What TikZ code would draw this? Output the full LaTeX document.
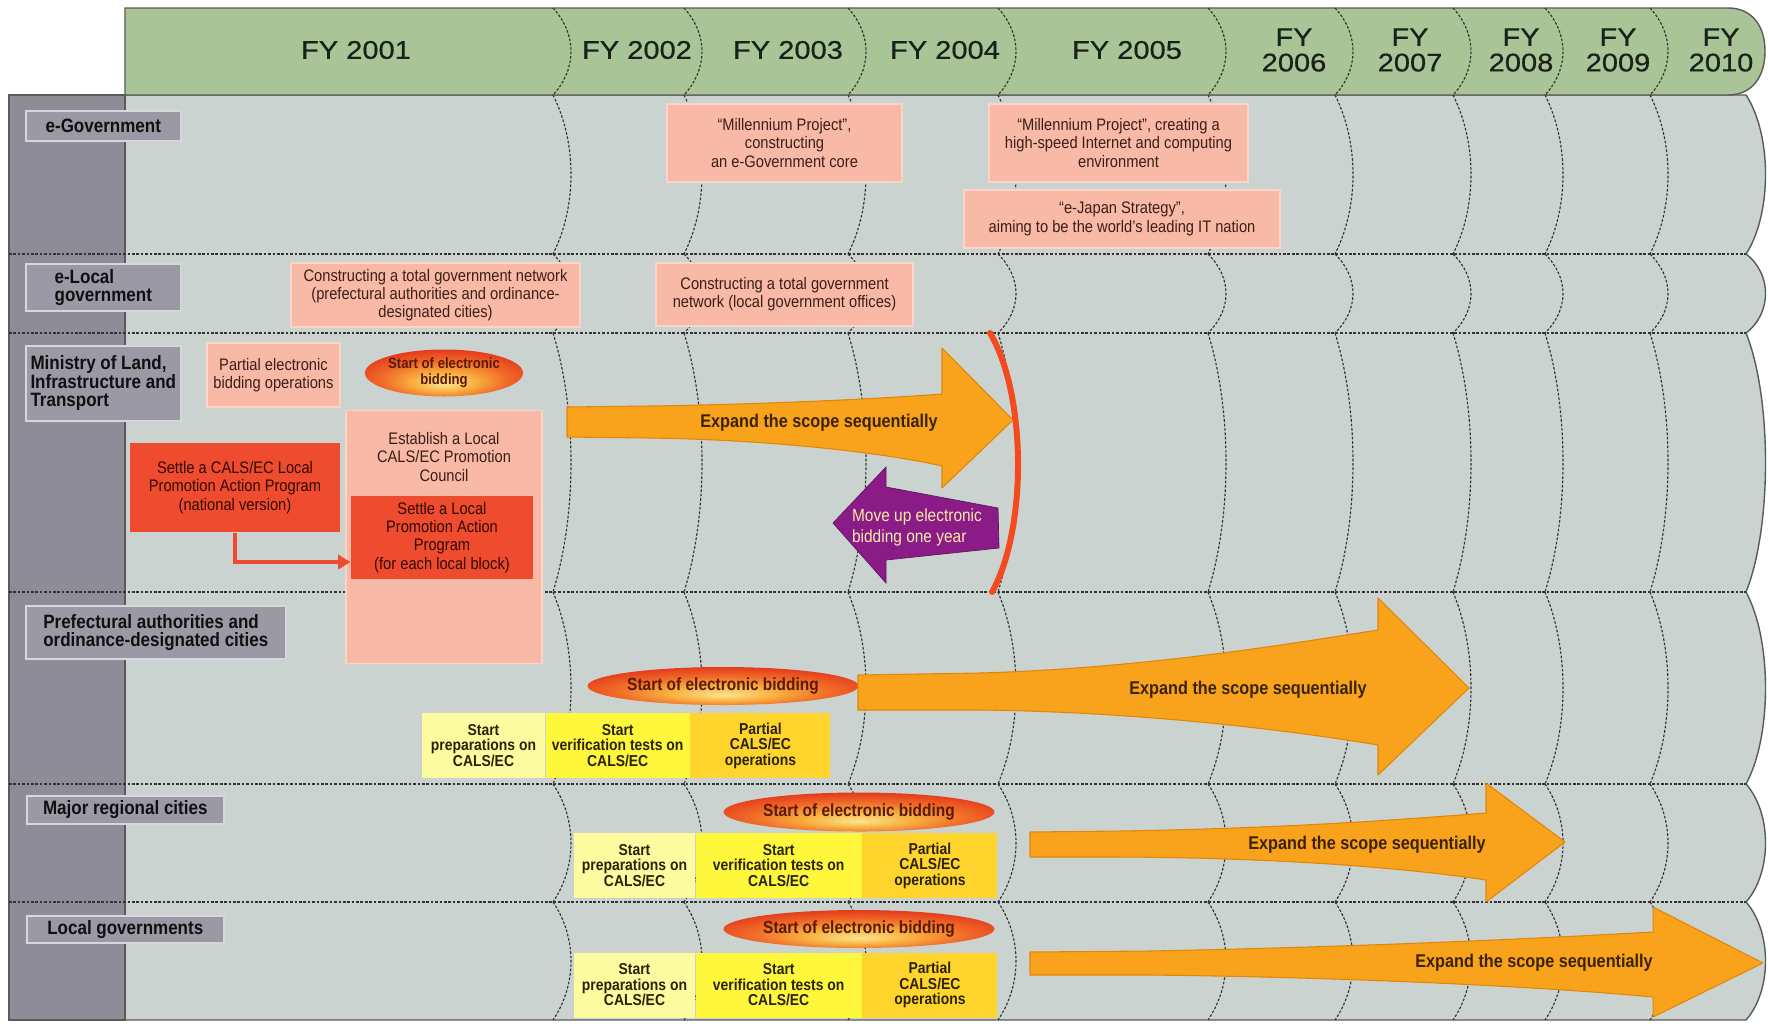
\documentclass[tikz,border=0pt]{standalone}
\usepackage{fontspec}
\setmainfont{Liberation Sans}
\newfontfamily\hdrfont[FakeStretch=1.14,FakeBold=0.6]{Liberation Sans}
\newfontfamily\boxfont[FakeStretch=0.88]{Liberation Sans}
\newfontfamily\labfont[FakeStretch=0.88]{Liberation Sans Bold}
\usepackage{tikz}
\usetikzlibrary{arrows.meta}
\usetikzlibrary{positioning}
\usetikzlibrary{shapes.geometric}

\definecolor{hdrgreen}{HTML}{A9C597}
\definecolor{hdrtext}{HTML}{18221A}
\definecolor{bodyfill}{HTML}{CBD3D1}
\definecolor{colfill}{HTML}{8E8C97}
\definecolor{labfill}{HTML}{9B99A3}
\definecolor{labedge}{HTML}{D6D6DC}
\definecolor{labtext}{HTML}{101010}
\definecolor{edgegray}{HTML}{5A5A5A}
\definecolor{sepgray}{HTML}{333333}
\definecolor{pinkfill}{HTML}{F8B9A7}
\definecolor{pinkedge}{HTML}{FBD3C7}
\definecolor{boxtext}{HTML}{3B1E16}
\definecolor{redfill}{HTML}{EF4B2F}
\definecolor{redtext}{HTML}{2E0A03}
\definecolor{orangefill}{HTML}{F9A21B}
\definecolor{orangeedge}{HTML}{E0860A}
\definecolor{scopetext}{HTML}{3A2300}
\definecolor{yelpale}{HTML}{FDFBA0}
\definecolor{yelmid}{HTML}{FEF73C}
\definecolor{yelgold}{HTML}{FFD42C}
\definecolor{yeltext}{HTML}{2A2205}
\definecolor{purplefill}{HTML}{8B1C87}
\definecolor{movetext}{HTML}{F7EBA8}
\definecolor{bracketred}{HTML}{F34A1E}
\definecolor{bidtext}{HTML}{5A1A02}
\definecolor{ellcore}{HTML}{FBE48E}
\definecolor{ellmid}{HTML}{F8B040}
\definecolor{ellwarm}{HTML}{F06A28}
\definecolor{ellrim}{HTML}{E43A1C}

\pgfdeclareradialshading{bidshade}{\pgfpoint{0bp}{-12bp}}{color(0bp)=(ellcore); color(10bp)=(ellmid); color(20bp)=(ellwarm); color(30bp)=(ellrim); color(50bp)=(ellrim)}

\begin{document}
\begin{tikzpicture}[x=0.2mm,y=-0.2mm,
  hdr/.style={font=\hdrfont\fontsize{14.5}{14.5}\selectfont,text=hdrtext,align=center,inner sep=0pt},
  lab/.style={anchor=north west,draw=labedge,line width=0.9pt,fill=labfill,text=labtext,font=\labfont\fontsize{11}{10.5}\selectfont,align=left,inner sep=0pt},
  pinkbox/.style={draw=pinkedge,line width=0.6pt,fill=pinkfill,text=boxtext,font=\boxfont\fontsize{9.5}{10.4}\selectfont,align=center,inner sep=0pt},
  redbox/.style={pinkbox,draw=none,fill=redfill,text=redtext},
  bidell/.style={ellipse,shading=bidshade,text=bidtext,font=\labfont\fontsize{10}{10.5}\selectfont,align=center,inner sep=0pt},
  yelbox/.style={text=yeltext,font=\labfont\fontsize{9}{8.8}\selectfont,align=center,inner sep=0pt,minimum height=13mm},
  scopetxt/.style={text=scopetext,font=\labfont\fontsize{10.5}{12}\selectfont,inner sep=0pt},
  scopearrow/.style={fill=orangefill,draw=orangeedge,line width=0.6pt,line join=round},
  rowsep/.style={draw=sepgray,line width=0.65pt,dash pattern=on 1.5pt off 1pt},
  yearsep/.style={rowsep},
  redlink/.style={draw=redfill,line width=2.2pt,-{Triangle[length=7pt,width=8pt]}},
  bracketline/.style={draw=bracketred,line width=1.2mm,line cap=round}]

  \useasboundingbox (0,0) rectangle (1768,1023);
  \fill [white] (0,0) rectangle (1768,1023);

  \filldraw [fill=bodyfill,draw=edgegray,line width=0.8pt] (125,95)
    \foreach \ya/\yb in {95/254,254/333,333/592,592/784,784/902,902/1020} {
      -- (1746,\ya) .. controls (1772,{\ya+0.25*(\yb-\ya)}) and (1772,{\yb-0.25*(\yb-\ya)}) .. (1746,\yb)
    } -- (125,1020) -- cycle;
  \filldraw [fill=colfill,draw=edgegray,line width=0.8pt] (9,95) rectangle (125,1020);
  \filldraw [fill=hdrgreen,draw=edgegray,line width=0.8pt] (125,8) -- (1728,8)
    .. controls (1752,8) and (1765,26) .. (1765,51)
    .. controls (1765,77) and (1752,95) .. (1728,95) -- (125,95) -- cycle;

  \foreach \ys in {254,333,592,784,902}
    \draw [rowsep] (9,\ys) -- (1746,\ys);

  \foreach \xb in {553,684,848,998,1208,1335,1453,1545,1650}
    \foreach \ya/\yb in {8/95,95/254,254/333,333/592,592/784,784/902,902/1020}
      \draw [yearsep] (\xb,\ya) .. controls ({\xb+24},{\ya+0.3*(\yb-\ya)}) and ({\xb+24},{\yb-0.3*(\yb-\ya)}) .. (\xb,\yb);

  \node [hdr] (fy01) at (356,50) {FY 2001};
  \node [hdr] (fy02) at (637,50) {FY 2002};
  \node [hdr] (fy03) at (788,50) {FY 2003};
  \node [hdr] (fy04) at (945,50) {FY 2004};
  \node [hdr] (fy05) at (1127,50) {FY 2005};
  \node [hdr] (fy06) at (1294,50) {FY\\2006};
  \node [hdr] (fy07) at (1410,50) {FY\\2007};
  \node [hdr] (fy08) at (1521,50) {FY\\2008};
  \node [hdr] (fy09) at (1618,50) {FY\\2009};
  \node [hdr] (fy10) at (1721,50) {FY\\2010};

  \node [lab,minimum width=31mm,minimum height=6mm] (egov) at (25,110) {e-Government};
  \node [lab,minimum width=31mm,minimum height=9.4mm] (elocal) at (25,263) {e-Local\\government};
  \node [lab,minimum width=31mm,minimum height=15mm] (mlit) at (25,345) {Ministry of Land,\\Infrastructure and\\Transport};
  \node [lab,minimum width=52mm,minimum height=10.6mm] (pref) at (25,605) {Prefectural authorities and\\ordinance-designated cities};
  \node [lab,minimum width=39.4mm,minimum height=5.6mm] (major) at (26,795) {Major regional cities};
  \node [lab,minimum width=39.4mm,minimum height=5.4mm] (localgov) at (26,915) {Local governments};

  \node [pinkbox,minimum width=47mm,minimum height=15.6mm] (mill1) at (784.5,143) {“Millennium Project”,\\constructing\\an e-Government core};
  \node [pinkbox,minimum width=51.8mm,minimum height=15.6mm] (mill2) at (1118.5,143) {“Millennium Project”, creating a\\high-speed Internet and computing\\environment};
  \node [pinkbox,minimum width=63.2mm,minimum height=11.6mm] (ejapan) at (1122,219) {“e-Japan Strategy”,\\aiming to be the world’s leading IT nation};
  \node [pinkbox,minimum width=57.8mm,minimum height=12.8mm] (netpref) at (435.5,295) {Constructing a total government network\\(prefectural authorities and ordinance-\\designated cities)};
  \node [pinkbox,minimum width=51.4mm,minimum height=12.6mm] (netlocal) at (784.5,294.5) {Constructing a total government\\network (local government offices)};
  \node [pinkbox,minimum width=26.6mm,minimum height=12.8mm] (partbid) at (273.5,375) {Partial electronic\\bidding operations};
  \node [pinkbox,minimum width=39.2mm,minimum height=50.6mm,anchor=north] (council) at (444,410) {};
  \node [pinkbox,draw=none,fill=none] (counciltxt) at (444,457) {Establish a Local\\CALS/EC Promotion\\Council};
  \node [redbox,minimum width=36.4mm,minimum height=16.6mm] (localprog) at (442,537.5) {Settle a Local\\Promotion Action\\Program\\(for each local block)};
  \node [redbox,minimum width=42mm,minimum height=17.8mm] (natprog) at (235,487.5) {Settle a CALS/EC Local\\Promotion Action Program\\(national version)};

  \path [redlink] (natprog.south) |- ([yshift=-4.9mm]localprog.west);

  \node [bidell,minimum width=31.4mm,minimum height=9.4mm,font=\labfont\fontsize{8.5}{9}\selectfont] (bidmlit) at (444,373) {Start of electronic\\bidding};
  \node [bidell,minimum width=50.2mm,minimum height=7.6mm] (bidpref) at (723,686) {Start of electronic bidding};
  \node [bidell,minimum width=49.6mm,minimum height=7.8mm] (bidmajor) at (859,812) {Start of electronic bidding};
  \node [bidell,minimum width=49.6mm,minimum height=7.6mm] (bidlocal) at (859,929) {Start of electronic bidding};

  \node [yelbox,fill=yelpale,minimum width=24.6mm] (prep1) at (483.5,745.5) {Start\\preparations on\\CALS/EC};
  \node [yelbox,fill=yelmid,minimum width=28.8mm,right=0pt of prep1] (verif1) {Start\\verification tests on\\CALS/EC};
  \node [yelbox,fill=yelgold,minimum width=28mm,right=0pt of verif1] (part1) {Partial\\CALS/EC\\operations};
  \foreach \r/\yr in {2/865.5,3/985} {
    \node [yelbox,fill=yelpale,minimum width=24.2mm] (prep\r) at (634.5,\yr) {Start\\preparations on\\CALS/EC};
    \node [yelbox,fill=yelmid,minimum width=33.2mm,right=0pt of prep\r] (verif\r) {Start\\verification tests on\\CALS/EC};
    \node [yelbox,fill=yelgold,minimum width=27mm,right=0pt of verif\r] (part\r) {Partial\\CALS/EC\\operations};
  }

  \filldraw [scopearrow] (567,407) -- (650,406) .. controls (780,404) and (890,398) .. (942,394)
    -- (942,348) -- (1013,420) -- (942,488) -- (942,466)
    .. controls (890,454) and (780,440) .. (650,438) -- (567,437) -- cycle;
  \filldraw [scopearrow] (858,675) -- (980,673) .. controls (1150,668) and (1300,642) .. (1378,630)
    -- (1378,598) -- (1469,688) -- (1378,775) -- (1378,745)
    .. controls (1300,732) and (1150,712) .. (980,710) -- (858,710) -- cycle;
  \filldraw [scopearrow] (1030,832) -- (1120,831) .. controls (1300,828) and (1420,818) .. (1486,813)
    -- (1486,783) -- (1565,842) -- (1486,902) -- (1486,880)
    .. controls (1420,870) and (1300,858) .. (1120,857) -- (1030,857) -- cycle;
  \filldraw [scopearrow] (1030,952) -- (1150,951) .. controls (1400,946) and (1580,936) .. (1653,932)
    -- (1653,907) -- (1763,963) -- (1653,1017) -- (1653,997)
    .. controls (1580,990) and (1400,978) .. (1150,975) -- (1030,975) -- cycle;

  \node [scopetxt] (scope1) at (819,423) {Expand the scope sequentially};
  \node [scopetxt] (scope2) at (1248,690) {Expand the scope sequentially};
  \node [scopetxt] (scope3) at (1367,845) {Expand the scope sequentially};
  \node [scopetxt] (scope4) at (1534,963) {Expand the scope sequentially};

  \filldraw [fill=purplefill,draw=purplefill!70!black,line width=0.4pt] (833,523) -- (886,467) -- (886,487)
    -- (998,508) -- (999,548) -- (886,560) -- (886,583) -- cycle;
  \node [text=movetext,font=\boxfont\fontsize{10}{12}\selectfont,align=left,inner sep=0pt] (movetxt) at (917,527) {Move up electronic\\bidding one year};

  \draw [bracketline] (990,333) .. controls (1027,395) and (1027,530) .. (992,592);
\end{tikzpicture}
\end{document}
